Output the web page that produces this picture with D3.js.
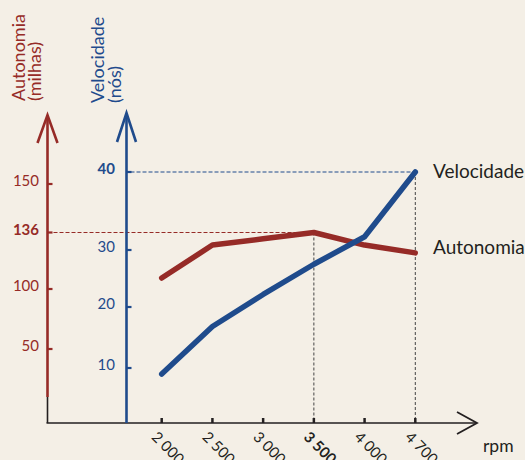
<!DOCTYPE html>
<html>
<head>
<meta charset="utf-8">
<script src="https://cdn.jsdelivr.net/npm/d3@7"></script>
<style>
  html, body { margin: 0; padding: 0; background: #f4efe6; }
  svg { display: block; font-family: Lato, "Open Sans", sans-serif; }
</style>
</head>
<body>
<div id="chart"></div>
<script>
// data
var rpm = ['2 000', '2 500', '3 000', '3 500', '4 000', '4 700'];
var autonomia = [107, 128, 132, 136, 128, 123];   // milhas
var velocidade = [9, 16.8, 22.2, 27.5, 31.7, 40];  // nós
var autTicks = [50, 100, 136, 150];
var velTicks = [10, 20, 30, 40];

var width = 525, height = 460;
var red = '#962b27', blue = '#1f4b8c', ink = '#231f20';

var svg = d3.select('#chart').append('svg')
  .attr('width', width)
  .attr('height', height);

// scales (axes in the source are hand drawn, so piecewise)
var x = d3.scalePoint().domain(rpm).range([161.7, 415.3]);
var yAut = d3.scaleLinear().domain([50, 100, 136, 150]).range([349, 289, 232.5, 184]);
var yVel = d3.scaleLinear().domain([10, 20, 30, 40]).range([368, 307, 250, 172]);

var baseY = 423, autX = 47.5, velX = 126.5;

// reference dashed lines
svg.append('line').attr('x1', autX).attr('x2', x('3 500'))
  .attr('y1', yAut(136)).attr('y2', yAut(136))
  .attr('stroke', red).attr('stroke-width', 1).attr('stroke-dasharray', '4,2');
svg.append('line').attr('x1', velX + 4).attr('x2', x('4 700'))
  .attr('y1', yVel(40)).attr('y2', yVel(40))
  .attr('stroke', blue).attr('stroke-width', 1).attr('stroke-dasharray', '4,2');
svg.append('line').attr('x1', x('3 500')).attr('x2', x('3 500'))
  .attr('y1', yAut(136)).attr('y2', baseY)
  .attr('stroke', '#444').attr('stroke-width', 1).attr('stroke-dasharray', '3,2');
svg.append('line').attr('x1', x('4 700')).attr('x2', x('4 700'))
  .attr('y1', yVel(40)).attr('y2', baseY)
  .attr('stroke', '#444').attr('stroke-width', 1).attr('stroke-dasharray', '3,2');

// x axis
svg.append('line').attr('x1', autX - 1).attr('x2', 476).attr('y1', baseY).attr('y2', baseY)
  .attr('stroke', ink).attr('stroke-width', 1.6);
svg.append('path').attr('d', 'M457,412L477,423L457,434')
  .attr('fill', 'none').attr('stroke', ink).attr('stroke-width', 1.8);
svg.selectAll('.xtick').data(rpm).enter().append('line')
  .attr('x1', function(d){ return x(d); }).attr('x2', function(d){ return x(d); })
  .attr('y1', baseY - 5).attr('y2', baseY)
  .attr('stroke', ink).attr('stroke-width', 2.5);
svg.selectAll('.xlab').data(rpm).enter().append('text')
  .attr('transform', function(d){ return 'translate(' + (x(d) - 11) + ',438) rotate(45)'; })
  .attr('font-size', 15)
  .attr('font-weight', function(d){ return d == '3 500' ? 'bold' : 'normal'; })
  .attr('fill', ink)
  .text(function(d){ return d; });
svg.append('text').attr('x', 483).attr('y', 452).attr('font-size', 17.5).attr('fill', ink).text('rpm');

// autonomia axis
svg.append('line').attr('x1', autX).attr('x2', autX).attr('y1', baseY).attr('y2', 397)
  .attr('stroke', ink).attr('stroke-width', 1.6);
svg.append('line').attr('x1', autX).attr('x2', autX).attr('y1', 397).attr('y2', 116)
  .attr('stroke', red).attr('stroke-width', 2.6);
svg.append('path').attr('d', 'M37.5,143L' + autX + ',115L57.5,143')
  .attr('fill', 'none').attr('stroke', red).attr('stroke-width', 2.6);
svg.selectAll('.atick').data(autTicks).enter().append('line')
  .attr('x1', autX).attr('x2', autX + 5)
  .attr('y1', function(d){ return yAut(d); }).attr('y2', function(d){ return yAut(d); })
  .attr('stroke', red).attr('stroke-width', 2.2);
svg.selectAll('.alab').data(autTicks).enter().append('text')
  .attr('x', 39).attr('y', function(d){ return yAut(d) + 2; })
  .attr('text-anchor', 'end').attr('font-size', 15)
  .attr('font-weight', function(d){ return d == 136 ? 'bold' : 'normal'; })
  .attr('fill', red)
  .text(function(d){ return d; });
var at = svg.append('text').attr('transform', 'translate(25,101) rotate(-90)')
  .attr('font-size', 18).attr('fill', red);
at.append('tspan').attr('x', 0).attr('y', 0).text('Autonomia');
at.append('tspan').attr('x', 0).attr('y', 16).text('(milhas)');

// velocidade axis
svg.append('line').attr('x1', velX).attr('x2', velX).attr('y1', baseY).attr('y2', 114)
  .attr('stroke', blue).attr('stroke-width', 2.6);
svg.append('path').attr('d', 'M117,142L' + velX + ',113L136,142')
  .attr('fill', 'none').attr('stroke', blue).attr('stroke-width', 2.6);
svg.selectAll('.vtick').data(velTicks).enter().append('line')
  .attr('x1', velX).attr('x2', velX + 5)
  .attr('y1', function(d){ return yVel(d); }).attr('y2', function(d){ return yVel(d); })
  .attr('stroke', blue).attr('stroke-width', 2.2);
svg.selectAll('.vlab').data(velTicks).enter().append('text')
  .attr('x', 115).attr('y', function(d){ return yVel(d) + 2; })
  .attr('text-anchor', 'end').attr('font-size', 15)
  .attr('font-weight', function(d){ return d == 40 ? 'bold' : 'normal'; })
  .attr('fill', blue)
  .text(function(d){ return d; });
var vt = svg.append('text').attr('transform', 'translate(104,103) rotate(-90)')
  .attr('font-size', 18).attr('fill', blue);
vt.append('tspan').attr('x', 0).attr('y', 0).text('Velocidade');
vt.append('tspan').attr('x', 0).attr('y', 17).text('(nós)');

// series
var lineAut = d3.line().x(function(d, i){ return x(rpm[i]); }).y(function(d){ return yAut(d); });
var lineVel = d3.line().x(function(d, i){ return x(rpm[i]); }).y(function(d){ return yVel(d); });
svg.append('path').attr('d', lineAut(autonomia))
  .attr('fill', 'none').attr('stroke', red).attr('stroke-width', 5.5)
  .attr('stroke-linecap', 'round').attr('stroke-linejoin', 'round');
svg.append('path').attr('d', lineVel(velocidade))
  .attr('fill', 'none').attr('stroke', blue).attr('stroke-width', 5.5)
  .attr('stroke-linecap', 'round').attr('stroke-linejoin', 'round');

// series labels
svg.append('text').attr('x', 433).attr('y', yVel(40) + 6).attr('font-size', 19)
  .attr('fill', ink).text('Velocidade');
svg.append('text').attr('x', 433).attr('y', yAut(123) + 1).attr('font-size', 19)
  .attr('fill', ink).text('Autonomia');
</script>
</body>
</html>
